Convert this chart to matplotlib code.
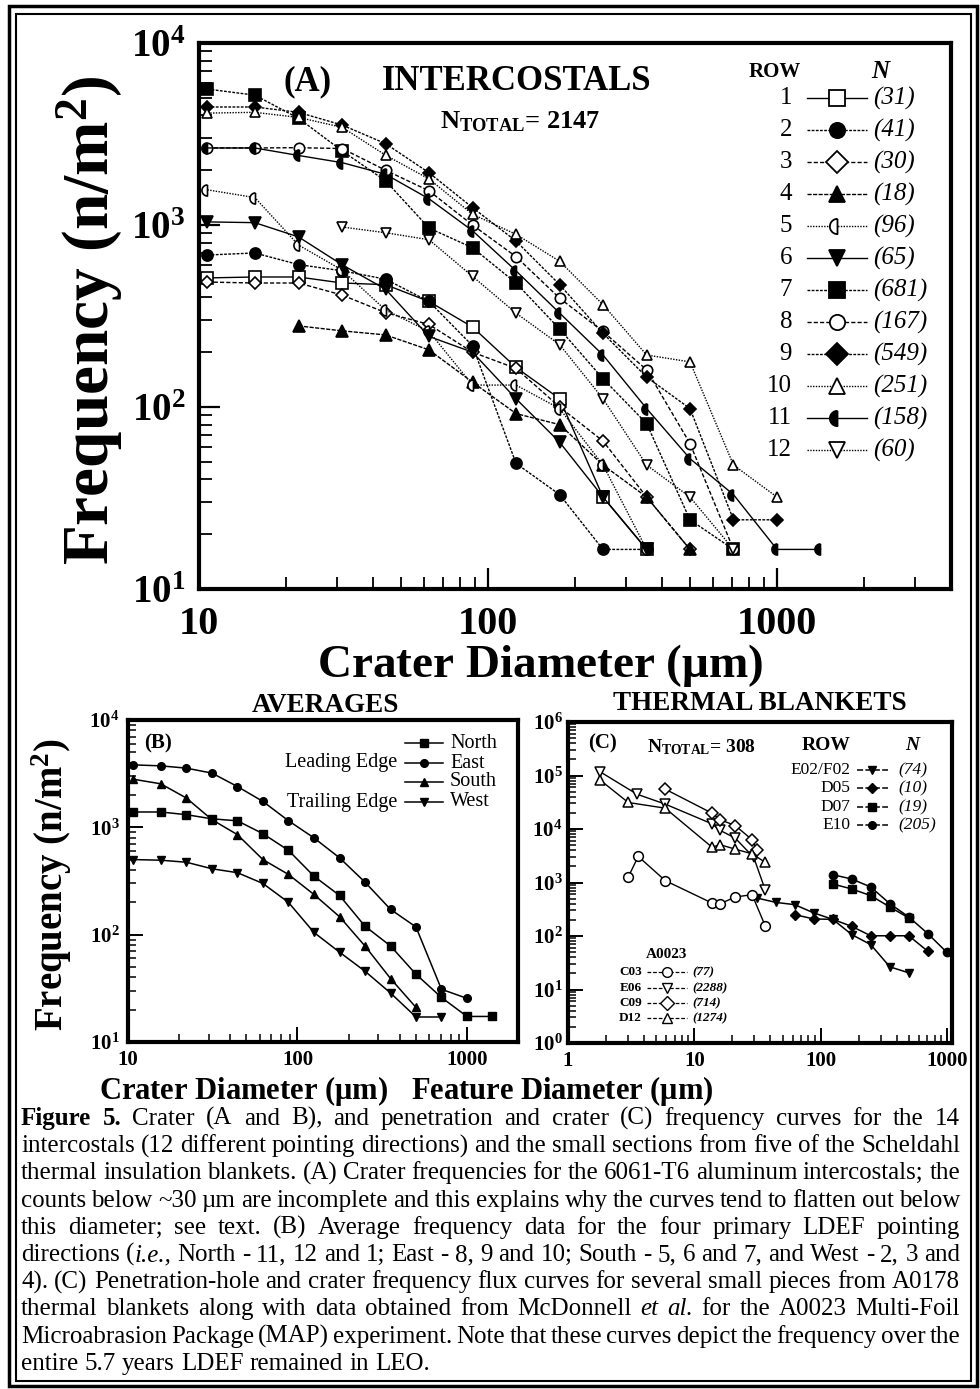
import numpy as np
import matplotlib
matplotlib.use('Agg')
import matplotlib.pyplot as plt
from matplotlib.lines import Line2D
from matplotlib.patches import Rectangle

plt.rcParams['font.family'] = ['Liberation Serif', 'DejaVu Serif']
plt.rcParams['mathtext.fontset'] = 'custom'
plt.rcParams['mathtext.rm'] = 'Liberation Serif'
plt.rcParams['mathtext.it'] = 'Liberation Serif:italic'
plt.rcParams['mathtext.bf'] = 'Liberation Serif:bold'

# ---------------- data ----------------
# (A) intercostals, crater diameter bins (um)
diam = [10.7, 15.6, 22.1, 31.3, 44.2, 62.5, 88.4, 125, 177, 250, 354, 500, 707, 1000, 1414]
row_names = ['1', '2', '3', '4', '5', '6', '7', '8', '9', '10', '11', '12']
row_counts = ['(31)', '(41)', '(30)', '(18)', '(96)', '(65)', '(681)', '(167)', '(549)', '(251)', '(158)', '(60)']
row_start = [0, 0, 0, 2, 0, 0, 0, 0, 0, 0, 0, 3]
row1 = [512, 518, 518, 480, 470, 380, 275, 165, 111, 32, 16.5]
row2 = [684, 702, 606, 560, 504, 380, 217, 49, 33, 16.5, 16.5]
row3 = [486, 480, 480, 412, 330, 284, 200, 163, 100, 65, 32, 16.5]
row4 = [279, 262, 249, 206, 137, 92, 80, 48, 32, 16.5]
row5 = [1560, 1415, 776, 565, 341, 260, 132, 132, 98, 48, 16.5]
row6 = [1040, 1030, 860, 604, 444, 244, 200, 111, 64, 32, 16.5]
row7 = [5580, 5170, 3860, 2550, 1750, 962, 750, 480, 268, 143, 81, 24, 16.5]
row8 = [2650, 2650, 2660, 2630, 2000, 1541, 1000, 670, 396, 260, 160, 63, 16.5]
row9 = [4450, 4450, 4160, 3540, 2800, 1937, 1246, 816, 470, 254, 146, 98, 24, 24]
row10 = [4120, 4160, 3900, 3440, 2420, 1790, 1145, 889, 632, 365, 193, 177, 48, 32]
row11 = [2650, 2650, 2410, 2200, 1900, 1393, 930, 560, 328, 193, 98, 52, 33, 16.5, 16.5]
row12 = [975, 907, 830, 522, 328, 220, 111, 48, 32, 16.5]
rows_A = [row1, row2, row3, row4, row5, row6, row7, row8, row9, row10, row11, row12]

# (B) averages
north = [1390, 1390, 1312, 1200, 1150, 873, 611, 351, 232, 120, 78.5, 42.8, 26, 17.3, 17.3]
east = [3820, 3740, 3560, 3200, 2400, 1743, 1153, 798, 520, 309, 172, 118, 31, 25.5]
south = [2810, 2545, 1875, 1178, 855, 501, 364, 237, 147, 78.5, 39, 21]
west = [501, 494, 473, 411, 378, 300, 200, 105, 68.7, 45.7, 28.6, 17.1, 17.1]

# (C) thermal blankets (A0178) and A0023 MAP
e02_x = [31.25, 44.2, 62.5, 88.4, 125, 177, 250, 354, 500]
e02_y = [514, 425, 385, 270, 205, 106, 69, 26.5, 20.5]
d05_x = [62.5, 88.4, 125, 177, 250, 354, 500, 707]
d05_y = [251, 208, 205, 151, 101, 101, 101, 52]
d07_x = [125, 177, 250, 354, 500]
d07_y = [937, 757, 568, 349, 218]
e10_x = [125, 177, 250, 354, 500, 707, 1000]
e10_y = [1400, 1160, 824, 402, 227, 111, 49.6]
c03_x = [3.0, 3.6, 5.9, 13.8, 16.1, 21.1, 28.7, 36.6]
c03_y = [1265, 3070, 1082, 414, 402, 536, 592, 152]
e06_x = [1.79, 3.51, 5.89, 13.8, 16.1, 21.1, 29.6, 36.6]
e06_y = [118000, 44800, 29200, 12500, 9380, 6760, 2940, 713]
c09_x = [5.89, 13.8, 16.1, 21.1, 28.7, 31.4]
c09_y = [55500, 19800, 14900, 11600, 6300, 4090]
d12_x = [1.79, 3.0, 5.89, 13.8, 16.1, 21.1, 28.7, 36.6]
d12_y = [82800, 31300, 24500, 4590, 5070, 4200, 3440, 2370]

# ---------------- figure ----------------
W, H = 980, 1389
fig = plt.figure(figsize=(W / 100, H / 100), dpi=100)


def fx(px):
    return px / W


def fy(py):
    return 1 - py / H


def axbox(l, t, r, b):
    return [fx(l), fy(b), fx(r) - fx(l), fy(t) - fy(b)]


t = np.linspace(np.pi / 2, 3 * np.pi / 2, 25)
half_disc = list(zip(np.cos(t), np.sin(t))) + [(0.0, 1.0)]

# marker, face colour, line style for each row of (A)
styleA = [
    ('s', 'white', '-'),
    ('o', 'black', (0, (2, 1))),
    ('D', 'white', (0, (3, 1.5))),
    ('^', 'black', (0, (3, 1))),
    (half_disc, 'white', (0, (1, 1))),
    ('v', 'black', '-'),
    ('s', 'black', (0, (2, 1))),
    ('o', 'white', (0, (3, 1.5))),
    ('D', 'black', (0, (2, 1))),
    ('^', 'white', (0, (1, 1))),
    (half_disc, 'black', '-'),
    ('v', 'white', (0, (1, 1))),
]
msizeA = [8, 8, 6, 8, 8, 8, 8, 7.5, 6.5, 7.5, 8, 7.5]


def style_axes(ax, lw=3):
    for s in ax.spines.values():
        s.set_linewidth(lw)
    ax.tick_params(which='both', direction='in', top=False, right=False)


# ---- panel A ----
axA = fig.add_axes(axbox(199, 43, 951, 589))
axA.set_xscale('log')
axA.set_yscale('log')
for vals, st, (mk, fc, ls), ms in zip(rows_A, row_start, styleA, msizeA):
    axA.plot(diam[st:st + len(vals)], vals, color='black', lw=1.0, ls=ls,
             marker=mk, ms=ms, mfc=fc, mec='black', mew=1.2, clip_on=False)
axA.set_xlim(10, 4000)
axA.set_ylim(10, 1e4)
style_axes(axA, 3)
axA.tick_params(which='major', length=15, width=1.6, pad=12)
axA.tick_params(which='minor', length=9, width=1.3)
axA.set_xticks([10, 100, 1000])
axA.set_xticklabels(['10', '100', '1000'], fontsize=29, fontweight='bold')
axA.set_yticks([10, 100, 1000, 10000])
axA.set_yticklabels([r'$\mathbf{10^{1}}$', r'$\mathbf{10^{2}}$', r'$\mathbf{10^{3}}$', r'$\mathbf{10^{4}}$'],
                    fontsize=28)
axA.tick_params(axis='y', pad=10)

fig.text(fx(308), fy(82), '(A)', fontsize=25, fontweight='bold', ha='center', va='center')
fig.text(fx(517), fy(82), 'INTERCOSTALS', fontsize=25, fontweight='bold', ha='center', va='center')
fig.text(fx(520), fy(122), r'N$_{\mathbf{TOTAL}}$= 2147', fontsize=19, fontweight='bold',
         ha='center', va='center')
fig.text(fx(90), fy(320), r'Frequency (n/m$^{\mathbf{2}}$)', fontsize=47, fontweight='bold',
         rotation=90, ha='center', va='center')
fig.text(fx(540), fy(666), r'Crater Diameter ($\mathbf{\mu}$m)', fontsize=34, fontweight='bold',
         ha='center', va='center')

# legend of A
fig.text(fx(775), fy(72), 'ROW', fontsize=15, fontweight='bold', ha='center', va='center')
fig.text(fx(880), fy(72), 'N', fontsize=18, fontweight='bold', style='italic', ha='center', va='center')
for i, (name, cnt, (mk, fc, ls)) in enumerate(zip(row_names, row_counts, styleA)):
    py = 98.3 + 32 * i
    fig.text(fx(792), fy(py), name, fontsize=18, ha='right', va='center')
    fig.add_artist(Line2D([fx(807), fx(867)], [fy(py), fy(py)], color='black', lw=1.0, ls=ls))
    fig.add_artist(Line2D([fx(837)], [fy(py)], marker=mk, ms=11, mfc=fc, mec='black', mew=1.3))
    fig.text(fx(873), fy(py), cnt, fontsize=18, style='italic', ha='left', va='center')

# ---- panel B ----
axB = fig.add_axes(axbox(128, 720, 518, 1042))
axB.set_xscale('log')
axB.set_yscale('log')
b_series = [(north, 's', 'North'), (east, 'o', 'East'), (south, '^', 'South'), (west, 'v', 'West')]
for vals, mk, name in b_series:
    axB.plot(diam[:len(vals)], vals, color='black', lw=1.1, marker=mk, ms=5.5, clip_on=False)
axB.set_xlim(10, 2000)
axB.set_ylim(10, 1e4)
style_axes(axB, 3)
axB.tick_params(which='major', length=11, width=1.4, pad=6)
axB.tick_params(which='minor', length=6, width=1.1)
axB.set_xticks([10, 100, 1000])
axB.set_xticklabels(['10', '100', '1000'], fontsize=15, fontweight='bold')
axB.set_yticks([10, 100, 1000, 10000])
axB.set_yticklabels([r'$\mathbf{10^{1}}$', r'$\mathbf{10^{2}}$', r'$\mathbf{10^{3}}$', r'$\mathbf{10^{4}}$'],
                    fontsize=15)
fig.text(fx(158), fy(743), '(B)', fontsize=15, fontweight='bold', ha='center', va='center')
fig.text(fx(325), fy(706), 'AVERAGES', fontsize=19.5, fontweight='bold', ha='center', va='center')
fig.text(fx(52), fy(885), r'Frequency (n/m$^{\mathbf{2}}$)', fontsize=28, fontweight='bold',
         rotation=90, ha='center', va='center')
for i, (vals, mk, name) in enumerate(b_series):
    py = [743, 763, 782, 802][i]
    fig.add_artist(Line2D([fx(405), fx(443)], [fy(py), fy(py)], color='black', lw=1.1))
    fig.add_artist(Line2D([fx(424)], [fy(py)], marker=mk, ms=5.5, color='black'))
    fig.text(fx(450), fy(py), name, fontsize=14.5, ha='left', va='center')
fig.text(fx(397), fy(763), 'Leading Edge', fontsize=14.5, ha='right', va='center')
fig.text(fx(397), fy(802), 'Trailing Edge', fontsize=14.5, ha='right', va='center')

# ---- panel C ----
axC = fig.add_axes(axbox(568, 722, 952, 1043))
axC.set_xscale('log')
axC.set_yscale('log')
c_blanket = [(e02_x, e02_y, 'v', 'E02/F02', '(74)'),
             (d05_x, d05_y, 'D', 'D05', '(10)'),
             (d07_x, d07_y, 's', 'D07', '(19)'),
             (e10_x, e10_y, 'o', 'E10', '(205)')]
c_map = [(c03_x, c03_y, 'o', 'C03', '(77)'),
         (e06_x, e06_y, 'v', 'E06', '(2288)'),
         (c09_x, c09_y, 'D', 'C09', '(714)'),
         (d12_x, d12_y, '^', 'D12', '(1274)')]
for xs, ys, mk, name, cnt in c_blanket:
    axC.plot(xs, ys, color='black', lw=1.1, marker=mk, ms=6 if mk != 'D' else 5, clip_on=False)
for xs, ys, mk, name, cnt in c_map:
    axC.plot(xs, ys, color='black', lw=1.0, marker=mk, ms=7 if mk != 'D' else 6, mfc='white',
             mew=1.1, clip_on=False)
axC.set_xlim(1, 1100)
axC.set_ylim(1, 1e6)
style_axes(axC, 3)
axC.tick_params(which='major', length=11, width=1.4, pad=6)
axC.tick_params(which='minor', length=6, width=1.1)
axC.set_xticks([1, 10, 100, 1000])
axC.set_xticklabels(['1', '10', '100', '1000'], fontsize=15, fontweight='bold')
axC.set_yticks([1, 10, 100, 1e3, 1e4, 1e5, 1e6])
axC.set_yticklabels([r'$\mathbf{10^{%d}}$' % k for k in range(7)], fontsize=15)
axC.tick_params(axis='y', pad=4)
fig.text(fx(602), fy(743), '(C)', fontsize=15, fontweight='bold', ha='center', va='center')
fig.text(fx(760), fy(704), 'THERMAL BLANKETS', fontsize=19.5, fontweight='bold', ha='center', va='center')
fig.text(fx(702), fy(747), r'N$_{\mathbf{TOTAL}}$= 308', fontsize=14, fontweight='bold', ha='center', va='center')
fig.text(fx(826), fy(746), 'ROW', fontsize=14, fontweight='bold', ha='center', va='center')
fig.text(fx(912), fy(746), 'N', fontsize=14, fontweight='bold', style='italic', ha='center', va='center')
for i, (xs, ys, mk, name, cnt) in enumerate(c_blanket):
    py = [770, 788, 807, 825][i]
    fig.text(fx(850), fy(py), name, fontsize=12.5, ha='right', va='center')
    fig.add_artist(Line2D([fx(857), fx(888)], [fy(py), fy(py)], color='black', lw=1.1, ls=(0, (4, 1.5))))
    fig.add_artist(Line2D([fx(872)], [fy(py)], marker=mk, ms=5.5, color='black'))
    fig.text(fx(898), fy(py), cnt, fontsize=12.5, style='italic', ha='left', va='center')
fig.text(fx(667), fy(955), 'A0023', fontsize=11, fontweight='bold', ha='center', va='center')
for i, (xs, ys, mk, name, cnt) in enumerate(c_map):
    py = [972, 988, 1003, 1018][i]
    fig.text(fx(642), fy(py), name, fontsize=9.5, fontweight='bold', ha='right', va='center')
    fig.add_artist(Line2D([fx(647), fx(687)], [fy(py), fy(py)], color='black', lw=0.9, ls=(0, (3, 1.5))))
    fig.add_artist(Line2D([fx(667)], [fy(py)], marker=mk, ms=7, mfc='white', mec='black', mew=1.0))
    fig.text(fx(692), fy(py), cnt, fontsize=9.5, fontweight='bold', style='italic', ha='left', va='center')

fig.text(fx(243), fy(1074), r'Crater Diameter ($\mathbf{\mu}$m)', fontsize=22, fontweight='bold',
         ha='center', va='top')
fig.text(fx(562), fy(1074), r'Feature Diameter ($\mathbf{\mu}$m)', fontsize=22, fontweight='bold',
         ha='center', va='top')

# ---- caption ----
# '#' marks bold pieces, '*' italic pieces, '|' joins pieces without a space
caption = [
    '#Figure #5. Crater (A and B), and penetration and crater (C) frequency curves for the 14',
    'intercostals (12 different pointing directions) and the small sections from five of the Scheldahl',
    'thermal insulation blankets. (A) Crater frequencies for the 6061-T6 aluminum intercostals; the',
    'counts below ~30 \u00b5m are incomplete and this explains why the curves tend to flatten out below',
    'this diameter; see text. (B) Average frequency data for the four primary LDEF pointing',
    'directions (|*i.e., North - 11, 12 and 1; East - 8, 9 and 10; South - 5, 6 and 7, and West - 2, 3 and',
    '4). (C) Penetration-hole and crater frequency flux curves for several small pieces from A0178',
    'thermal blankets along with data obtained from McDonnell *et *al. for the A0023 Multi-Foil',
    'Microabrasion Package (MAP) experiment. Note that these curves depict the frequency over the',
    'entire 5.7 years LDEF remained in LEO.',
]
cap_size = 18
cap_left, cap_right = 21, 960
cap_top, cap_step = 1125, 27.2
renderer = fig.canvas.get_renderer()


def piece(s, y):
    kw = {}
    if s.startswith('#'):
        s, kw = s[1:], {'fontweight': 'bold'}
    elif s.startswith('*'):
        s, kw = s[1:], {'style': 'italic'}
    return fig.text(0, y, s, fontsize=cap_size, ha='left', va='baseline', **kw)


for i, line in enumerate(caption):
    y = fy(cap_top + cap_step * i)
    words = []
    for w in line.split(' '):
        parts = [piece(p, y) for p in w.split('|')]
        words.append([(p, p.get_window_extent(renderer).width) for p in parts])
    widths = [sum(wd for _, wd in parts) for parts in words]
    if i < len(caption) - 1:
        gap = (cap_right - cap_left - sum(widths)) / (len(words) - 1)
    else:
        gap = cap_size * 0.25 * 100 / 72
    x = cap_left
    for parts, w in zip(words, widths):
        xx = x
        for p, wd in parts:
            p.set_x(fx(xx))
            xx += wd
        x += w + gap

# page border
fig.add_artist(Rectangle((fx(9), fy(1386)), fx(977) - fx(9), fy(6) - fy(1386), fill=False,
                         lw=2.5, ec='black', transform=fig.transFigure))
fig.add_artist(Rectangle((fx(16), fy(1381)), fx(971) - fx(16), fy(14) - fy(1381), fill=False,
                         lw=1.5, ec='black', transform=fig.transFigure))

fig.savefig('out.png', dpi=100)
